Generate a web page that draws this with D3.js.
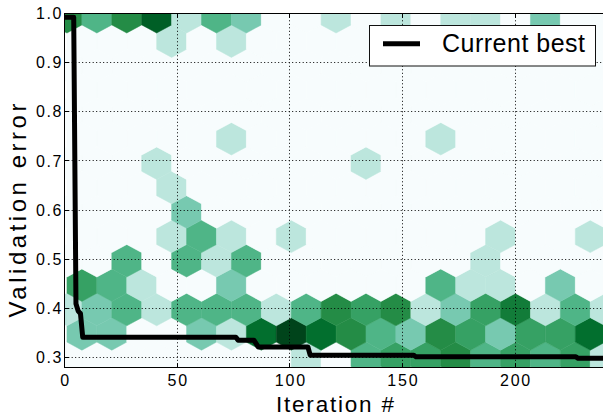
<!DOCTYPE html>
<html><head><meta charset="utf-8">
<script src="https://cdn.jsdelivr.net/npm/d3@7"></script>
<style>
body{margin:0;background:#fff}
svg{display:block}
text{font-family:"Liberation Sans",Arial,Helvetica,sans-serif;fill:#000}
</style>
</head><body>
<svg id="chart" width="603" height="415"></svg>
<script>
// ---------- data ----------
const xTicks = [0, 50, 100, 150, 200];
const yTicks = [0.3, 0.4, 0.5, 0.6, 0.7, 0.8, 0.9, 1.0];
const yTickLabels = ["0.3", "0.4", "0.5", "0.6", "0.7", "0.8", "0.9", "1.0"];

// "Current best" curve (breakpoints of running minimum)
const bestIter = [1, 4, 5, 6, 7, 8, 76, 77, 84, 85, 86, 108, 109, 155, 156, 227, 228, 240];
const bestErr  = [0.992, 0.992, 0.41, 0.395, 0.39, 0.342, 0.342, 0.336, 0.336, 0.329, 0.322, 0.322, 0.3055, 0.3055, 0.302, 0.302, 0.299, 0.299];

// hexbin of all evaluations: extent of the data and grid size
const hexIterExtent = [1, 240];
const hexErrExtent = [0.299, 0.993];
const hexGridSize = [18, 7];
// counts per hex row (row 0 = lowest error); even rows have 19 cells, odd rows 18
const hexRow0  = [0,0,0,0,0,0,0,0,1,0,3,4,4,5,3,4,3,4,1];
const hexRow1  = [2,2,0,0,2,1,7,10,7,5,3,2,5,4,2,4,4,7];
const hexRow2  = [1,2,3,1,3,3,3,1,3,5,4,5,1,2,4,6,1,3,1];
const hexRow3  = [4,3,1,0,0,2,0,0,0,0,0,0,3,1,1,0,2,0];
const hexRow4  = [0,0,3,0,3,1,3,0,0,0,0,0,0,0,1,0,0,0,0];
const hexRow5  = [0,0,0,1,3,1,0,1,0,0,0,0,0,0,1,0,0,1];
const hexRow6  = [0,0,0,0,2,0,0,0,0,0,0,0,0,0,0,0,0,0,0];
const hexRow7  = [0,0,0,1,0,0,0,0,0,0,0,0,0,0,0,0,0,0];
const hexRow8  = [0,0,0,1,0,0,0,0,0,0,1,0,0,0,0,0,0,0,0];
const hexRow9  = [0,0,0,0,0,1,0,0,0,0,0,0,1,0,0,0,0,0];
const hexRow10 = [0,0,0,0,0,0,0,0,0,0,0,0,0,0,0,0,0,0,0];
const hexRow11 = [0,0,0,0,0,0,0,0,0,0,0,0,0,0,0,0,0,0];
const hexRow12 = [0,0,0,0,0,0,0,0,0,0,0,0,0,0,0,0,0,0,0];
const hexRow13 = [0,0,0,1,0,1,0,0,0,0,0,0,0,0,0,0,0,0];
const hexRow14 = [5,3,5,8,1,3,2,0,0,1,0,1,0,1,1,0,2,0,0];
const hexRows = [hexRow0,hexRow1,hexRow2,hexRow3,hexRow4,hexRow5,hexRow6,hexRow7,
                 hexRow8,hexRow9,hexRow10,hexRow11,hexRow12,hexRow13,hexRow14];

const bugnColors = ["#f7fcfd","#e5f5f9","#ccece6","#99d8c9","#66c2a4","#41ae76","#238b45","#006d2c","#00441b"];

// ---------- layout ----------
const svg = d3.select("#chart");
const L = 64.7, R = 605.2, T = 13.3, B = 367.7;
const x = d3.scaleLinear().domain([0, 240]).range([L, R]);
const y = d3.scaleLinear().domain([0.28, 1.0]).range([B, T]);
const crisp = v => Math.floor(v) + 0.5;

svg.append("rect").attr("width", 603).attr("height", 415).attr("fill", "#fff");
svg.append("defs").append("clipPath").attr("id", "plot")
  .append("rect").attr("x", L).attr("y", T).attr("width", R - L).attr("height", B - T);

// ---------- hexbin ----------
const [nx, ny] = hexGridSize;
const sx = (hexIterExtent[1] - hexIterExtent[0]) / nx;
const sy = (hexErrExtent[1] - hexErrExtent[0]) / ny;
const maxCount = d3.max(hexRows, r => d3.max(r));
const cmap = d3.scaleLinear().domain(d3.range(9).map(i => i / 8)).range(bugnColors)
  .interpolate(d3.interpolateRgb).clamp(true);
const colorOf = c => cmap(Math.log10(c + 1) / Math.log10(maxCount + 1));
const hexOffsets = [[.5,-.5],[.5,.5],[0,1],[-.5,.5],[-.5,-.5],[0,-1]];

const cells = [];
hexRows.forEach((row, k) => {
  const odd = k % 2 === 1;
  const cy = hexErrExtent[0] + (odd ? (k - 1) / 2 + 0.5 : k / 2) * sy;
  row.forEach((c, i) => {
    const cx = hexIterExtent[0] + (odd ? i + 0.5 : i) * sx;
    cells.push({cx, cy, c});
  });
});

const gHex = svg.append("g").attr("clip-path", "url(#plot)");
gHex.selectAll("path").data(cells).join("path")
  .attr("d", d => "M" + hexOffsets.map(o => [x(d.cx + o[0] * sx), y(d.cy + o[1] * sy / 3)].join(",")).join("L") + "Z")
  .attr("fill", d => colorOf(d.c))
  .attr("stroke", d => colorOf(d.c))
  .attr("stroke-width", 0.5);

// ---------- grid ----------
const gGrid = svg.append("g").attr("clip-path", "url(#plot)")
  .attr("stroke", "#000").attr("stroke-width", 1).attr("stroke-dasharray", "1,2.5");
gGrid.selectAll(".gx").data(xTicks.filter(v => v > 0)).join("line")
  .attr("x1", d => crisp(x(d))).attr("x2", d => crisp(x(d))).attr("y1", T).attr("y2", B);
gGrid.selectAll(".gy").data(yTicks.filter(v => v < 1)).join("line")
  .attr("x1", L).attr("x2", R).attr("y1", d => crisp(y(d))).attr("y2", d => crisp(y(d)));

// ---------- ticks (inside) ----------
const gTick = svg.append("g").attr("stroke", "#000").attr("stroke-width", 1);
xTicks.forEach(v => {
  gTick.append("line").attr("x1", crisp(x(v))).attr("x2", crisp(x(v))).attr("y1", B).attr("y2", B - 4.5);
  gTick.append("line").attr("x1", crisp(x(v))).attr("x2", crisp(x(v))).attr("y1", T).attr("y2", T + 4.5);
});
yTicks.forEach(v => {
  gTick.append("line").attr("x1", L).attr("x2", L + 4.5).attr("y1", crisp(y(v))).attr("y2", crisp(y(v)));
});

// ---------- current best line ----------
const bestData = bestIter.map((it, i) => [it, bestErr[i]]);
svg.append("path").attr("clip-path", "url(#plot)")
  .datum(bestData)
  .attr("d", d3.line().x(d => x(d[0])).y(d => y(d[1])))
  .attr("fill", "none").attr("stroke", "#000").attr("stroke-width", 5)
  .attr("stroke-linejoin", "round").attr("stroke-linecap", "square");

// ---------- spines ----------
svg.append("rect").attr("x", crisp(L)).attr("y", crisp(T)).attr("width", R - L).attr("height", crisp(B) - crisp(T))
  .attr("fill", "none").attr("stroke", "#000").attr("stroke-width", 1);

// ---------- tick labels ----------
svg.append("g").selectAll("text").data(xTicks).join("text")
  .attr("x", d => x(d) + 0.9).attr("y", 385.5).attr("text-anchor", "middle")
  .attr("font-size", 16).attr("letter-spacing", 1.8)
  .text(d => String(d));
svg.append("g").selectAll("text").data(yTicks).join("text")
  .attr("x", 63).attr("y", d => y(d) + 5.6).attr("text-anchor", "end")
  .attr("font-size", 16).attr("letter-spacing", 1.6)
  .text((d, i) => yTickLabels[i]);

// ---------- axis labels ----------
svg.append("text").attr("x", x(120)).attr("y", 411.5).attr("text-anchor", "middle")
  .attr("font-size", 22.5).attr("textLength", 118).attr("lengthAdjust", "spacing")
  .text("Iteration #");
svg.append("text").attr("transform", "translate(26,210.5) rotate(-90)")
  .attr("text-anchor", "middle").attr("font-size", 24)
  .attr("textLength", 214).attr("lengthAdjust", "spacing")
  .text("Validation error");

// ---------- legend ----------
const lg = svg.append("g");
lg.append("rect").attr("x", 369.5).attr("y", 25.5).attr("width", 226).attr("height", 40.5)
  .attr("fill", "#fff").attr("stroke", "#111").attr("stroke-width", 1);
lg.append("line").attr("x1", 383).attr("x2", 420).attr("y1", 43.7).attr("y2", 43.7)
  .attr("stroke", "#000").attr("stroke-width", 5);
lg.append("text").attr("x", 442).attr("y", 52.3).attr("font-size", 25)
  .attr("textLength", 143).attr("lengthAdjust", "spacing")
  .text("Current best");
</script>
</body></html>
